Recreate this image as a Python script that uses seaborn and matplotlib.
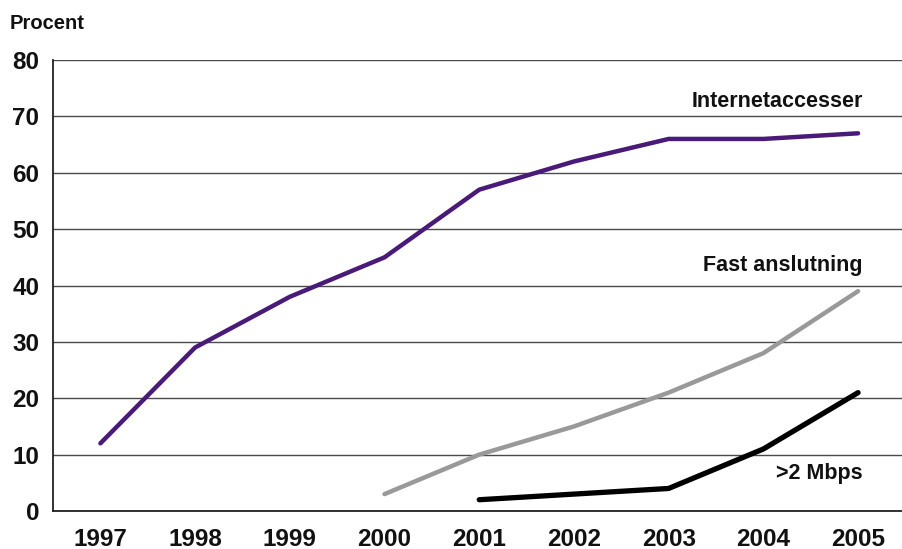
import matplotlib.pyplot as plt
import numpy as np
import pandas as pd
import seaborn as sns


YEARS = ["1997", "1998", "1999", "2000", "2001", "2002", "2003", "2004", "2005"]
INTERNET = [12, 29, 38, 45, 57, 62, 66, 66, 67]
FAST = [np.nan, np.nan, np.nan, 3, 10, 15, 21, 28, 39]
MBPS2 = [np.nan, np.nan, np.nan, np.nan, 2, 3, 4, 11, 21]
Y_TICKS = [0, 10, 20, 30, 40, 50, 60, 70, 80]

SERIES = [
    ("Internetaccesser", INTERNET, "#4a1a78", 3.2, 72.7),
    ("Fast anslutning", FAST, "#999999", 3.2, 43.6),
    (">2 Mbps", MBPS2, "#000000", 3.8, 6.7),
]


def configure_style() -> None:
    sns.set_theme(style="white")
    plt.rcParams["font.family"] = ["Liberation Sans", "DejaVu Sans"]
    plt.rcParams["font.weight"] = "bold"


def main() -> None:
    configure_style()
    df = pd.DataFrame({"year": YEARS})
    for name, values, _, _, _ in SERIES:
        df[name] = values
    df["pos"] = np.arange(len(YEARS))

    fig = plt.figure(figsize=(9.02, 5.49), dpi=100)
    ax = fig.add_axes([0.0588, 0.0692, 0.945, 0.8215])

    for name, _, color, lw, label_y in SERIES:
        sub = df.dropna(subset=[name])
        sns.lineplot(data=sub, x="pos", y=name, color=color, linewidth=lw,
                     solid_capstyle="round", ax=ax, legend=False)
        ax.text(8.05, label_y, name, ha="right", va="center",
                fontsize=15.5, fontweight="bold", color="#111111")

    ax.set_xlim(-0.5, 8.5)
    ax.set_ylim(0, 80)
    ax.set_xticks(range(len(YEARS)))
    ax.set_xticklabels(YEARS)
    ax.set_yticks(Y_TICKS)
    ax.set_xlabel("")
    ax.set_ylabel("")
    ax.tick_params(axis="both", length=0, labelsize=17.5, colors="#111111")
    ax.tick_params(axis="x", pad=12)
    ax.tick_params(axis="y", pad=10)
    for lab in ax.get_xticklabels() + ax.get_yticklabels():
        lab.set_fontweight("bold")

    ax.grid(axis="y", color="#4a4a4a", linewidth=1.0)
    ax.set_axisbelow(True)
    for side in ["top", "right"]:
        ax.spines[side].set_visible(False)
    for side in ["left", "bottom"]:
        ax.spines[side].set_color("#222222")
        ax.spines[side].set_linewidth(1.3)

    fig.text(0.011, 0.958, "Procent", ha="left", va="center",
             fontsize=14.5, fontweight="bold", color="#111111")

    fig.savefig("out.png", dpi=100)
    plt.close(fig)


if __name__ == "__main__":
    main()
